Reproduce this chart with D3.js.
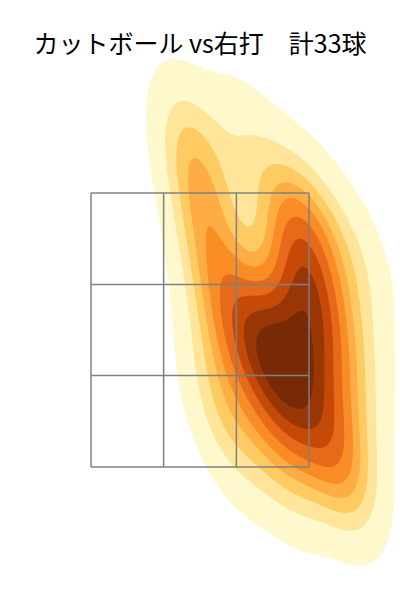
<!DOCTYPE html>
<meta charset="utf-8">
<style>
body { margin: 0; background: #fff; }
.title { font-family: "Noto Sans CJK JP", sans-serif; font-size: 25px; fill: #000; }
.zone { fill: none; stroke: #808080; stroke-width: 1.5px; }
</style>
<body>
<div id="chart"></div>
<script src="https://d3js.org/d3.v7.min.js"></script>
<script>

// pitch locations: horizontal offset from plate centre (ft), height (ft)
var plateX = [-0.11, -0.02, 0.02, 0.08, 0.11, 0.34,
              0.65, 0.76, 0.91, 0.80, 0.84,
              0.38, 0.47, 0.42, 0.49, 0.65, 0.76, 0.80, 0.84, 0.69, 0.85,
              0.15, 0.11, 0.30,
              1.22, 1.14, 1.07, 1.18,
              0.76, 0.57, 0.99, 0.69, 1.14];
var plateZ = [3.96, 3.70, 3.41, 3.12, 2.83, 3.89,
              3.45, 3.19, 3.34, 2.97, 2.79,
              2.61, 2.46, 2.28, 2.35, 2.15, 2.06, 2.72, 2.59, 2.44, 2.32,
              2.43, 1.99, 1.66,
              2.97, 1.99, 1.59, 2.39,
              1.92, 1.81, 1.59, 1.40, 1.37];

// strike zone split in thirds
var zoneX = [-0.83, -0.277, 0.277, 0.83];
var zoneZ = [1.5, 2.167, 2.833, 3.5];

var title = "カットボール vs右打\u3000計33球";

var width = 400,
    height = 600;

var x = d3.scaleLinear().domain([-0.83, 0.83]).range([91, 309]);
var y = d3.scaleLinear().domain([1.5, 3.5]).range([467, 193]);

var colors = ["#fff8cc", "#fee599", "#fecb63", "#fdad44", "#f98c25",
              "#e7691a", "#c54a08", "#993606", "#772a05"];

var svg = d3.select("#chart").append("svg")
    .attr("width", width)
    .attr("height", height);

// gaussian kde, scott's rule, full covariance (like scipy / seaborn)
var pts = plateX.map(function(d, i) { return [x(d), y(plateZ[i])]; });
var n = pts.length;
var mx = d3.mean(pts, d => d[0]), my = d3.mean(pts, d => d[1]);
var sxx = 0, syy = 0, sxy = 0;
pts.forEach(function(p) {
    sxx += (p[0] - mx) * (p[0] - mx);
    syy += (p[1] - my) * (p[1] - my);
    sxy += (p[0] - mx) * (p[1] - my);
});
var f2 = Math.pow(n, -1 / 3);
var a = sxx / (n - 1) * f2, b = sxy / (n - 1) * f2, c = syy / (n - 1) * f2;
var det = a * c - b * b;
var ia = c / det, ib = -b / det, ic = a / det;

var cell = 2, x0 = -60, y0 = -120;
var nx = 260, ny = 420;
var values = new Float64Array(nx * ny);
for (var j = 0; j < ny; j++) {
    for (var i = 0; i < nx; i++) {
        var gx = x0 + (i + 0.5) * cell, gy = y0 + (j + 0.5) * cell, s = 0;
        for (var k = 0; k < n; k++) {
            var dx = gx - pts[k][0], dy = gy - pts[k][1];
            s += Math.exp(-0.5 * (ia * dx * dx + 2 * ib * dx * dy + ic * dy * dy));
        }
        values[j * nx + i] = s;
    }
}

// iso-proportion levels
var sorted = Array.from(values).sort((p, q) => q - p);
var total = d3.sum(sorted);
var cum = [], acc = 0;
sorted.forEach(function(v) { acc += v; cum.push(acc / total); });
var levels = d3.range(10).map(function(i) {
    var q = 0.05 + i * 0.95 / 9;
    var idx = d3.bisectLeft(cum, 1 - q);
    return sorted[Math.min(idx, sorted.length - 1)];
});

var contours = d3.contours()
    .size([nx, ny])
    .thresholds(levels.slice(0, 9))(values);

var path = d3.geoPath(d3.geoIdentity().scale(cell).translate([x0, y0]));

svg.append("g")
    .selectAll("path")
    .data(contours)
    .join("path")
    .attr("d", path)
    .attr("fill", (d, i) => colors[i]);

// strike zone
var g = svg.append("g");
zoneX.forEach(function(v) {
    g.append("line").attr("class", "zone")
        .attr("x1", x(v)).attr("x2", x(v))
        .attr("y1", y(zoneZ[0])).attr("y2", y(zoneZ[3]));
});
zoneZ.forEach(function(v) {
    g.append("line").attr("class", "zone")
        .attr("x1", x(zoneX[0])).attr("x2", x(zoneX[3]))
        .attr("y1", y(v)).attr("y2", y(v));
});

svg.append("text")
    .attr("class", "title")
    .attr("x", width / 2)
    .attr("y", 53)
    .attr("text-anchor", "middle")
    .text(title);

</script>
